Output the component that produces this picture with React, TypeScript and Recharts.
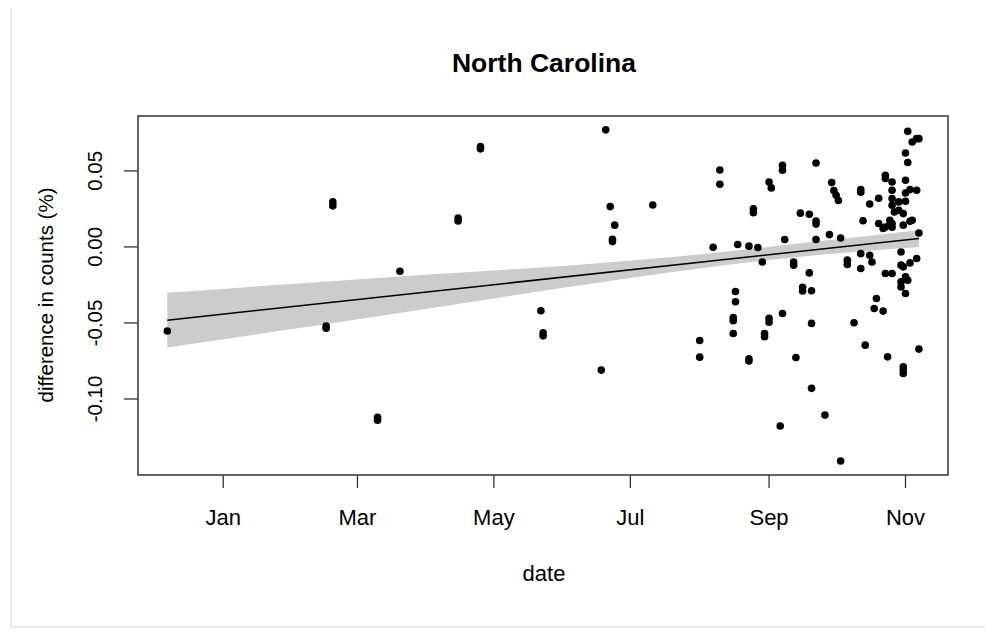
import React from "react"
import {
  ComposedChart,
  Scatter,
  Area,
  Line,
  XAxis,
  YAxis,
  ReferenceArea,
} from "recharts"

// R base-graphics look: Helvetica-ish text, black points, grey confidence band
const FONT = "'Liberation Sans', Arial, Helvetica, sans-serif"
const BOX = "#333333"
const BAND_FILL = "#cccccc"

const ORIGIN = Date.parse("2020-01-01")
const toDay = (d: string) => Math.round((Date.parse(d) - ORIGIN) / 86400000)

// x axis ticks (first of month)
const tickDates = ["2020-01-01", "2020-03-01", "2020-05-01", "2020-07-01", "2020-09-01", "2020-11-01"]
const tickLabels = ["Jan", "Mar", "May", "Jul", "Sep", "Nov"]
const yTicks = [-0.1, -0.05, 0, 0.05]

// observations: date + difference in counts (%)
const pointDates = [
  "2019-12-07",
  "2020-02-16", "2020-02-16",
  "2020-02-19", "2020-02-19",
  "2020-03-10", "2020-03-10",
  "2020-03-20",
  "2020-04-15", "2020-04-15",
  "2020-04-25", "2020-04-25",
  "2020-05-22",
  "2020-05-23", "2020-05-23",
  "2020-06-18",
  "2020-06-20",
  "2020-06-22",
  "2020-06-23", "2020-06-23",
  "2020-06-24",
  "2020-07-11",
  "2020-08-01", "2020-08-01",
  "2020-08-07",
  "2020-08-10", "2020-08-10",
  "2020-08-16", "2020-08-16", "2020-08-16",
  "2020-08-17", "2020-08-17",
  "2020-08-18",
  "2020-08-23", "2020-08-23", "2020-08-23",
  "2020-08-25", "2020-08-25",
  "2020-08-27",
  "2020-08-29",
  "2020-08-30", "2020-08-30",
  "2020-09-01", "2020-09-01", "2020-09-01",
  "2020-09-02",
  "2020-09-06",
  "2020-09-07", "2020-09-07", "2020-09-07",
  "2020-09-08",
  "2020-09-12", "2020-09-12",
  "2020-09-13",
  "2020-09-15",
  "2020-09-16", "2020-09-16",
  "2020-09-19", "2020-09-19",
  "2020-09-20", "2020-09-20", "2020-09-20",
  "2020-09-22", "2020-09-22", "2020-09-22", "2020-09-22",
  "2020-09-26",
  "2020-09-28",
  "2020-09-29",
  "2020-09-30",
  "2020-10-01",
  "2020-10-02",
  "2020-10-03", "2020-10-03",
  "2020-10-06", "2020-10-06",
  "2020-10-09",
  "2020-10-12", "2020-10-12", "2020-10-12", "2020-10-12",
  "2020-10-13",
  "2020-10-14",
  "2020-10-16", "2020-10-16",
  "2020-10-17",
  "2020-10-18",
  "2020-10-19",
  "2020-10-20", "2020-10-20",
  "2020-10-22", "2020-10-22",
  "2020-10-23", "2020-10-23", "2020-10-23", "2020-10-23",
  "2020-10-24",
  "2020-10-25", "2020-10-25",
  "2020-10-26", "2020-10-26", "2020-10-26", "2020-10-26", "2020-10-26", "2020-10-26", "2020-10-26",
  "2020-10-27",
  "2020-10-29", "2020-10-29",
  "2020-10-30", "2020-10-30", "2020-10-30", "2020-10-30",
  "2020-10-31", "2020-10-31", "2020-10-31", "2020-10-31", "2020-10-31", "2020-10-31",
  "2020-11-01", "2020-11-01", "2020-11-01", "2020-11-01", "2020-11-01", "2020-11-01",
  "2020-11-02", "2020-11-02", "2020-11-02",
  "2020-11-03", "2020-11-03", "2020-11-03",
  "2020-11-04", "2020-11-04",
  "2020-11-06", "2020-11-06", "2020-11-06",
  "2020-11-07", "2020-11-07", "2020-11-07",
]
const pointValues = [
  -0.0553,
  -0.052, -0.0535,
  0.0296, 0.027,
  -0.112, -0.114,
  -0.016,
  0.019, 0.017,
  0.066, 0.0645,
  -0.042,
  -0.0565, -0.0585,
  -0.081,
  0.077,
  0.0265,
  0.005, 0.0035,
  0.0143,
  0.0276,
  -0.0615, -0.0725,
  -0.0002,
  0.0506, 0.0412,
  -0.0465, -0.0485, -0.0569,
  -0.0293, -0.0361,
  0.0016,
  0.0005, -0.0735, -0.075,
  0.025, 0.0225,
  -0.0004,
  -0.0099,
  -0.057, -0.059,
  0.0427, -0.047, -0.0495,
  0.0388,
  -0.1178,
  0.0537, 0.0504, -0.0438,
  0.0049,
  -0.01, -0.012,
  -0.0727,
  0.0222,
  -0.0265, -0.029,
  0.0215, -0.0171,
  -0.0288, -0.0503, -0.093,
  0.0552, 0.017, 0.015, 0.0049,
  -0.1106,
  0.0081,
  0.0423,
  0.037,
  0.034,
  0.0305,
  0.0059, -0.1408,
  -0.0087, -0.0116,
  -0.0499,
  0.0377, 0.036, -0.0044, -0.0142,
  0.0172,
  -0.0646,
  0.0282, -0.0055,
  -0.0099,
  -0.0405,
  -0.0339,
  0.032, 0.0154,
  0.0121, -0.0422,
  0.0471, 0.045, 0.0131, -0.0175,
  -0.0723,
  0.0175, 0.0143,
  0.0427, 0.0373, 0.0318, 0.0274, 0.0154, 0.013, -0.0175,
  0.023,
  0.0296, 0.0241,
  -0.0033, -0.012, -0.023, -0.0263,
  0.0219, 0.0143, -0.0131, -0.0788, -0.081, -0.0832,
  0.0618, 0.0438, 0.0355, 0.03, -0.0197, -0.0306,
  0.076, 0.0555, -0.0219,
  0.0377, 0.0169, -0.0105,
  0.069, 0.0175,
  0.0712, 0.0373, -0.0076,
  0.0712, 0.0092, -0.0672,
]

// linear fit and its confidence band
const fitDates = ["2019-12-07", "2020-11-07"]
const fitValues = [-0.0482, 0.0056]
const bandDates = ["2019-12-07", "2020-04-02", "2020-05-30", "2020-08-05", "2020-09-14", "2020-11-07"]
const bandLow = [-0.0661, -0.0405, -0.0273, -0.0133, -0.0066, 0.0]
const bandHigh = [-0.0302, -0.0181, -0.0127, -0.0043, 0.0022, 0.011]

const X_DOMAIN: [number, number] = [-38.1, 324]
const Y_DOMAIN: [number, number] = [-0.15, 0.0861]

const points = pointDates.map((d, i) => ({ day: toDay(d), value: pointValues[i] }))
const fit = fitDates.map((d, i) => ({ day: toDay(d), value: fitValues[i] }))
const band = bandDates.map((d, i) => ({ day: toDay(d), band: [bandLow[i], bandHigh[i]] }))
const xTicks = tickDates.map(toDay)

const XTick = ({ x, payload }: any) => {
  const idx = xTicks.indexOf(payload.value)
  return (
    <text x={x} y={525} textAnchor="middle" fontSize={22} fontFamily={FONT} fill="#000">
      {tickLabels[idx]}
    </text>
  )
}

const YTick = ({ y, payload }: any) => (
  <text
    x={102}
    y={y}
    transform={`rotate(-90, 102, ${y})`}
    textAnchor="middle"
    fontSize={20.5}
    fontFamily={FONT}
    fill="#000"
  >
    {Number(payload.value).toFixed(2)}
  </text>
)

const Dot = ({ cx, cy }: any) => <circle cx={cx} cy={cy} r={3.8} fill="#000" />

export default function App() {
  return (
    <div style={{ position: "absolute", left: 0, top: 0, width: 985, height: 635, background: "#fff", overflow: "hidden" }}>
      <div style={{ position: "absolute", left: 10, top: 8, width: 2, height: 620, background: "#e8e8e8" }} />
      <div style={{ position: "absolute", left: 10, top: 626, width: 975, height: 2, background: "#e8e8e8" }} />
      <ComposedChart width={985} height={635} margin={{ top: 116, right: 37, bottom: 0, left: 0 }}>
        <XAxis
          type="number"
          dataKey="day"
          domain={X_DOMAIN}
          ticks={xTicks}
          allowDataOverflow
          height={160}
          axisLine={false}
          tickSize={13}
          tickLine={{ stroke: BOX, strokeWidth: 1.3 }}
          tick={<XTick />}
          interval={0}
        />
        <YAxis
          type="number"
          domain={Y_DOMAIN}
          ticks={yTicks}
          allowDataOverflow
          width={138}
          axisLine={false}
          tickSize={14}
          tickLine={{ stroke: BOX, strokeWidth: 1.3 }}
          tick={<YTick />}
          interval={0}
        />
        <Scatter data={points} dataKey="value" fill="#000" shape={<Dot />} isAnimationActive={false} />
        <Area
          data={band}
          dataKey="band"
          type="monotone"
          stroke="none"
          fill={BAND_FILL}
          fillOpacity={1}
          isAnimationActive={false}
        />
        <Line
          data={fit}
          dataKey="value"
          type="linear"
          stroke="#000"
          strokeWidth={1.5}
          dot={false}
          isAnimationActive={false}
        />
        <ReferenceArea
          x1={X_DOMAIN[0]}
          x2={X_DOMAIN[1]}
          y1={Y_DOMAIN[0]}
          y2={Y_DOMAIN[1]}
          fill="none"
          stroke={BOX}
          strokeWidth={1.5}
          ifOverflow="visible"
        />
        <text x={544} y={72} textAnchor="middle" fontSize={26.5} fontWeight="bold" fontFamily={FONT} fill="#000">
          North Carolina
        </text>
        <text x={544} y={581} textAnchor="middle" fontSize={22} fontFamily={FONT} fill="#000">
          date
        </text>
        <text
          x={53}
          y={295}
          transform="rotate(-90, 53, 295)"
          textAnchor="middle"
          fontSize={20.5}
          fontFamily={FONT}
          fill="#000"
        >
          difference in counts (%)
        </text>
      </ComposedChart>
    </div>
  )
}
